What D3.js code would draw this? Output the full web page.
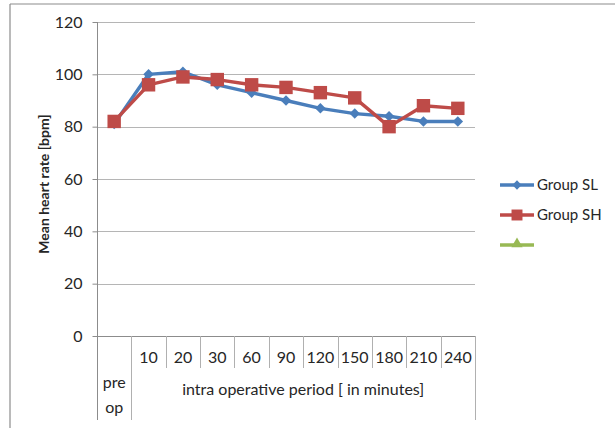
<!DOCTYPE html>
<html>
<head>
<meta charset="utf-8">
<script src="https://cdn.jsdelivr.net/npm/d3@7"></script>
<style>
  html, body { margin: 0; padding: 0; background: #fff; }
  svg text { font-family: Lato, "Open Sans", sans-serif; fill: #262626; }
</style>
</head>
<body>
<svg id="chart" width="615" height="428"></svg>
<script>
// Category labels (first level) and grouping (second level)
const categories = ["pre op", "10", "20", "30", "60", "90", "120", "150", "180", "210", "240"];
const groupLabels = ["pre op", "intra operative period [ in minutes]"];
// Mean heart rate per time point
const groupSL = [81, 100, 101, 96, 93, 90, 87, 85, 84, 82, 82];
const groupSH = [82, 96, 99, 98, 96, 95, 93, 91, 80, 88, 87];
const yTicks = [0, 20, 40, 60, 80, 100, 120];
const seriesNames = ["Group SL", "Group SH", ""];

const svg = d3.select("#chart");
const plotLeft = 97, plotRight = 475, plotTop = 22, plotBottom = 336;
const labelSize = "16px";

const x = d3.scaleBand().domain(categories).range([plotLeft, plotRight]).padding(0);
const y = d3.scaleLinear().domain([0, 120]).range([plotBottom, plotTop]);

// outer frame (left and top edges)
svg.append("line").attr("x1", 10).attr("x2", 10).attr("y1", 4).attr("y2", 428)
  .attr("stroke", "#8c8c8c").attr("stroke-width", 1.2);
svg.append("line").attr("x1", 10).attr("x2", 615).attr("y1", 4).attr("y2", 4)
  .attr("stroke", "#8c8c8c").attr("stroke-width", 1.2);

// horizontal gridlines
svg.append("g").selectAll("line").data(yTicks.filter(d => d > 0)).join("line")
  .attr("x1", plotLeft).attr("x2", plotRight)
  .attr("y1", d => Math.round(y(d)) + 0.5).attr("y2", d => Math.round(y(d)) + 0.5)
  .attr("stroke", "#b5b5b5").attr("stroke-width", 1);

// y axis
const yAxis = d3.axisLeft(y).tickValues(yTicks).tickSize(5).tickPadding(10);
const gy = svg.append("g").attr("transform", `translate(${plotLeft + 0.5},0)`).call(yAxis);
gy.select(".domain").remove();
gy.selectAll(".tick line").attr("stroke", "#8c8c8c");
gy.selectAll(".tick text").style("font-size", labelSize).style("font-family", "Lato, sans-serif").attr("fill", "#262626");

// y axis line (extends through the category label area)
svg.append("line").attr("x1", plotLeft + 0.5).attr("x2", plotLeft + 0.5).attr("y1", plotTop).attr("y2", 420)
  .attr("stroke", "#8c8c8c");

// x baseline
svg.append("line").attr("x1", plotLeft).attr("x2", plotRight).attr("y1", plotBottom + 0.5).attr("y2", plotBottom + 0.5)
  .attr("stroke", "#8c8c8c");

// category separators: short ones in first row, full-height ones between groups
const bw = x.bandwidth();
categories.slice(2).forEach(c => {
  const xx = Math.round(x(c)) + 0.5;
  svg.append("line").attr("x1", xx).attr("x2", xx).attr("y1", plotBottom).attr("y2", 368)
    .attr("stroke", "#b0b0b0");
});
[x(categories[1]), plotRight].forEach(v => {
  const xx = Math.round(v) + 0.5;
  svg.append("line").attr("x1", xx).attr("x2", xx).attr("y1", plotBottom).attr("y2", 420)
    .attr("stroke", "#b0b0b0");
});

// category labels
svg.append("g").selectAll("text").data(categories.slice(1)).join("text")
  .attr("x", d => x(d) + bw / 2).attr("y", 363)
  .attr("text-anchor", "middle").style("font-size", labelSize).text(d => d);

const preX = x(categories[0]) + bw / 2;
svg.append("text").attr("x", preX).attr("y", 388).attr("text-anchor", "middle")
  .style("font-size", labelSize).text("pre");
svg.append("text").attr("x", preX).attr("y", 413).attr("text-anchor", "middle")
  .style("font-size", labelSize).text("op");
svg.append("text").attr("x", (x(categories[1]) + plotRight) / 2).attr("y", 395).attr("text-anchor", "middle")
  .style("font-size", labelSize).text(groupLabels[1]);

// y axis title
svg.append("text").attr("transform", `translate(49,${(plotTop + plotBottom) / 2 + 5}) rotate(-90)`)
  .attr("text-anchor", "middle").style("font-size", "14px").style("font-weight", "bold")
  .text("Mean heart rate [bpm]");

// series
const colors = ["#4a7ebb", "#be4b48", "#98b954"];
const line = d3.line().x((d, i) => x(categories[i]) + bw / 2).y(d => y(d));
const diamond = d3.symbol().type(d3.symbolDiamond2).size(70);
const square = d3.symbol().type(d3.symbolSquare).size(180);

[[groupSL, diamond], [groupSH, square]].forEach(([vals, sym], k) => {
  svg.append("path").datum(vals).attr("d", line).attr("fill", "none")
    .attr("stroke", colors[k]).attr("stroke-width", 3.4).attr("stroke-linejoin", "round");
  svg.append("g").selectAll("path").data(vals).join("path")
    .attr("transform", (d, i) => `translate(${x(categories[i]) + bw / 2},${y(d)})`)
    .attr("d", sym).attr("fill", colors[k]);
});

// legend
const legY = [185, 215, 245];
const legSyms = [
  d3.symbol().type(d3.symbolDiamond2).size(55),
  d3.symbol().type(d3.symbolSquare).size(120),
  d3.symbol().type(d3.symbolTriangle).size(55)
];
seriesNames.forEach((name, i) => {
  const g = svg.append("g");
  g.append("line").attr("x1", 500).attr("x2", 534).attr("y1", legY[i]).attr("y2", legY[i])
    .attr("stroke", colors[i]).attr("stroke-width", 3.4);
  g.append("path").attr("transform", `translate(517,${legY[i] - (i === 2 ? 1 : 0)})`)
    .attr("d", legSyms[i]).attr("fill", colors[i]);
  g.append("text").attr("x", 537).attr("y", legY[i] + 5).style("font-size", "15px").text(name);
});
</script>
</body>
</html>
